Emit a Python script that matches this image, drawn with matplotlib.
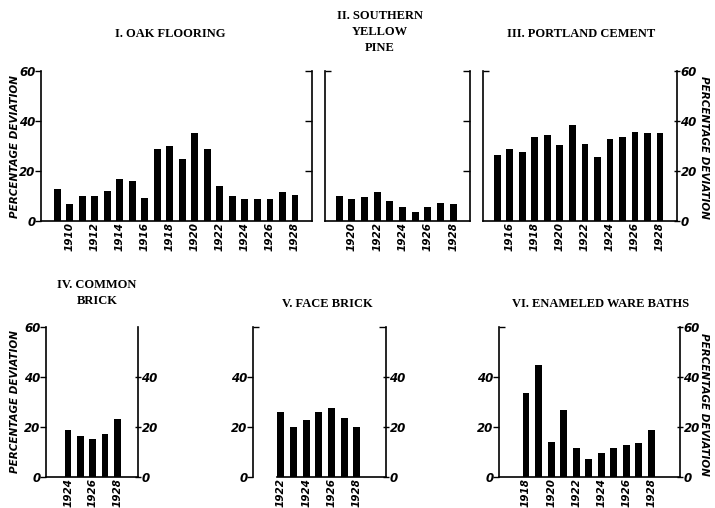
import numpy as np
import matplotlib
matplotlib.use('Agg')
import matplotlib.pyplot as plt


# data (percentage deviation by year)
oak_years = [1909, 1910, 1911, 1912, 1913, 1914, 1915, 1916, 1917, 1918,
             1919, 1920, 1921, 1922, 1923, 1924, 1925, 1926, 1927, 1928]
oak_values = [13, 7, 10, 10, 12, 16.8, 16, 9.2, 28.8, 30,
              24.8, 35.2, 29, 14, 9.9, 8.8, 9, 8.7, 11.5, 10.5]

pine_years = [1919, 1920, 1921, 1922, 1923, 1924, 1925, 1926, 1927, 1928]
pine_values = [9.9, 8.8, 9.6, 11.6, 7.9, 5.6, 3.7, 5.6, 7.3, 6.8]

cement_years = [1915, 1916, 1917, 1918, 1919, 1920, 1921,
                1922, 1923, 1924, 1925, 1926, 1927, 1928]
cement_values = [26.5, 28.8, 27.6, 33.6, 34.4, 30.5, 38.5,
                 31, 25.5, 33, 33.5, 35.5, 35.3, 35.3]

common_years = [1924, 1925, 1926, 1927, 1928]
common_values = [19, 16.3, 15.3, 17.2, 23.2]

face_years = [1922, 1923, 1924, 1925, 1926, 1927, 1928]
face_values = [26.1, 20.1, 23, 26.1, 27.7, 23.7, 20.1]

baths_years = [1918, 1919, 1920, 1921, 1922, 1923, 1924, 1925, 1926, 1927, 1928]
baths_values = [33.6, 44.7, 14, 26.9, 11.7, 7.1, 9.7, 11.7, 12.7, 13.7, 18.8]

titles = ['I. OAK FLOORING', 'II. SOUTHERN\nYELLOW\nPINE', 'III. PORTLAND CEMENT',
          'IV. COMMON\nBRICK', 'V. FACE BRICK', 'VI. ENAMELED WARE BATHS']
ylabel = 'PERCENTAGE DEVIATION'

W, H = 715, 508
fig = plt.figure(figsize=(W / 100, H / 100), dpi=100)

hand = dict(family='DejaVu Sans', style='italic', weight='bold')
serif = dict(family='Liberation Serif', weight='bold')

# pixel box (x0, x1, top, bottom), xlim, left labels, left bare ticks, right labels, right bare ticks
panels = [
    (oak_years, oak_values, (41, 312, 71, 221), (1907.7, 1929.36),
     [0, 20, 40, 60], [], [], [20, 40, 60]),
    (pine_years, pine_values, (325, 470, 71, 221), (1917.87, 1929.32),
     [], [60], [], [20, 40, 60]),
    (cement_years, cement_values, (483, 677, 71, 221), (1913.85, 1929.36),
     [], [60], [0, 20, 40, 60], []),
    (common_years, common_values, (46, 138, 327, 477), (1922.2, 1929.7),
     [0, 20, 40, 60], [], [0, 20, 40], []),
    (face_years, face_values, (253, 386, 327, 477), (1919.8, 1930.3),
     [0, 20, 40], [60], [0, 20, 40], [60]),
    (baths_years, baths_values, (499, 680, 327, 477), (1915.84, 1930.3),
     [0, 20, 40], [60], [0, 20, 40, 60], []),
]

axes = []
for years, vals, (x0, x1, top, bot), xlim, lt, lb, rt, rb in panels:
    ax = fig.add_axes([x0 / W, (H - bot) / H, (x1 - x0) / W, (bot - top) / H])
    ax.bar(years, vals, width=0.55, color='black')
    ax.set_xlim(*xlim)
    ax.set_ylim(0, 60)
    ax.spines['top'].set_visible(False)
    ax.spines['right'].set_visible(False)
    for s in ['left', 'bottom']:
        ax.spines[s].set_linewidth(1.2)
    ax.set_xticks([y for y in years if y % 2 == 0])
    ax.set_xticklabels([str(y) for y in years if y % 2 == 0], rotation=90,
                       fontsize=7.5, va='top', **hand)
    ax.tick_params(axis='x', length=0, pad=1)

    ax.set_yticks(lt + lb)
    ax.set_yticklabels([str(v) for v in lt] + ['' for v in lb], **hand, fontsize=8.5)
    ax.tick_params(axis='y', direction='out', length=4, width=1, pad=0)
    for t, v in zip(ax.yaxis.get_major_ticks(), lt + lb):
        if v in lb:
            t.tick1line.set_marker(matplotlib.markers.TICKRIGHT)
    if not lt and not lb:
        ax.tick_params(axis='y', left=False)

    tw = ax.twinx()
    tw.set_ylim(0, 60)
    for s in ['left', 'top', 'bottom']:
        tw.spines[s].set_visible(False)
    tw.spines['right'].set_linewidth(1.2)
    tw.set_yticks(rt + rb)
    tw.set_yticklabels([str(v) for v in rt] + ['' for v in rb], **hand, fontsize=8.5)
    tw.tick_params(axis='y', direction='inout', length=5, width=1, pad=0)
    for t, v in zip(tw.yaxis.get_major_ticks(), rt + rb):
        if v in rb:
            t.tick2line.set_marker(matplotlib.markers.TICKLEFT)
    axes.append(ax)

# face brick baseline starts at the first bar
axes[4].spines['bottom'].set_bounds(1921.7, 1930.3)

# titles
title_pos = [(170, 34), (380, 32), (581, 34), (97, 293), (327, 304), (601, 304)]
for txt, (x, y) in zip(titles, title_pos):
    fig.text(x / W, 1 - y / H, txt, ha='center', va='center', fontsize=9,
             multialignment='center', linespacing=1.45, **serif)

# axis captions
fig.text(15 / W, 1 - 147 / H, ylabel, rotation=90, ha='center', va='center',
         fontsize=7.5, **hand)
fig.text(15 / W, 1 - 402 / H, ylabel, rotation=90, ha='center', va='center',
         fontsize=7.5, **hand)
fig.text(704 / W, 1 - 147 / H, ylabel, rotation=-90, ha='center', va='center',
         fontsize=7.5, **hand)
fig.text(704 / W, 1 - 404 / H, ylabel, rotation=-90, ha='center', va='center',
         fontsize=7.5, **hand)

fig.savefig('out.png', dpi=100)
